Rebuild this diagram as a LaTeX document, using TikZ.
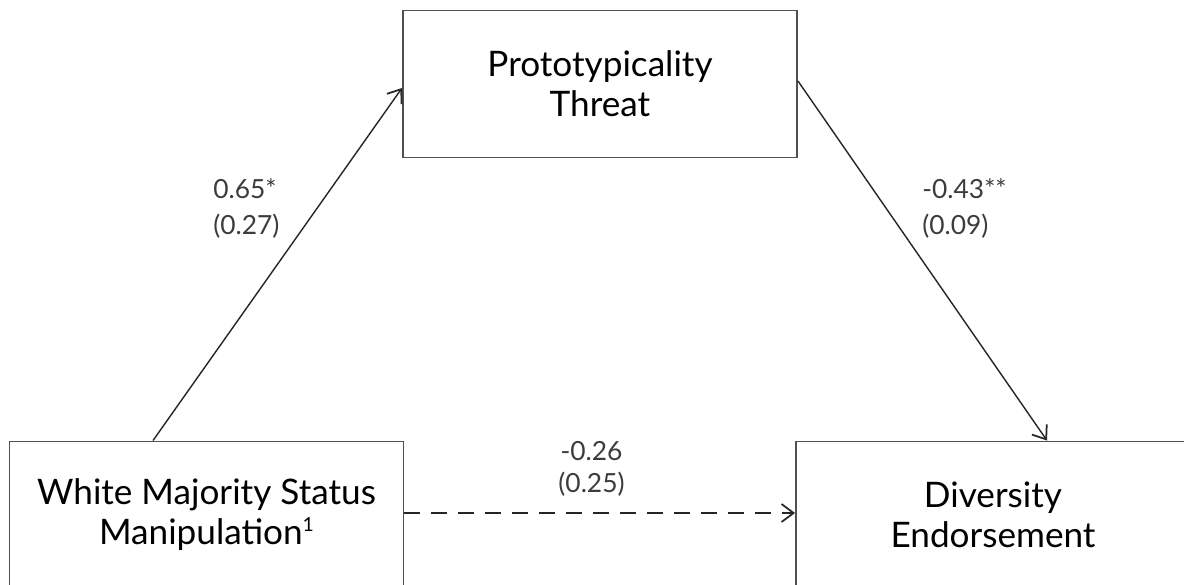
\documentclass[tikz,border=0pt]{standalone}
\usepackage{fontspec}
\setmainfont{Lato}
\usepackage{tikz}
\usetikzlibrary{arrows.meta, positioning}
\definecolor{boxgray}{RGB}{80,80,80}
\definecolor{labgray}{RGB}{60,60,60}
\newcommand{\supone}{{\fontsize{11}{11}\selectfont\raisebox{0.27cm}{1}}}

\begin{document}
\begin{tikzpicture}[
  >={Straight Barb[length=2.4mm, width=3.6mm, line width=1pt]},
  every node/.style={font=\fontsize{20}{22.7}\selectfont},
  varbox/.style={draw=boxgray, line width=1.1pt, minimum width=7.88cm,
                 minimum height=2.94cm, align=center, inner sep=0pt},
  coef/.style={font=\fontsize{15}{21}\selectfont, text=labgray, inner sep=0pt},
  path/.style={->, line width=0.8pt, black!85}
]
\useasboundingbox (0,0) rectangle (23.68,11.68);
\node[varbox] (proto) at (12.0,10.0) {Prototypicality\\Threat};
\node[varbox] (wms)   at (4.13,1.38) {White Majority Status\\Manipulation\supone};
\node[varbox] (div)   at (19.86,1.38) {Diversity\\Endorsement};
% paths
\draw[path] (wms.north -| 3.06,0) -- (proto.west |- 0,9.92);
\draw[path] (proto.east |- 0,10.06) -- (div.north -| 20.94,0);
\draw[path, dashed, dash pattern=on 3.2mm off 2.2mm] (wms.east |- 0,1.42) -- (div.west |- 0,1.42);
% coefficients
\node[coef, align=left, anchor=west] (a) at (4.26,7.51) {0.65*\\(0.27)};
\node[coef, align=left, anchor=west] (b) at (18.44,7.51) {-0.43**\\(0.09)};
\node[coef, align=center, font=\fontsize{15}{18.5}\selectfont] (c) at (11.83,2.30) {-0.26\\(0.25)};
\end{tikzpicture}
\end{document}
